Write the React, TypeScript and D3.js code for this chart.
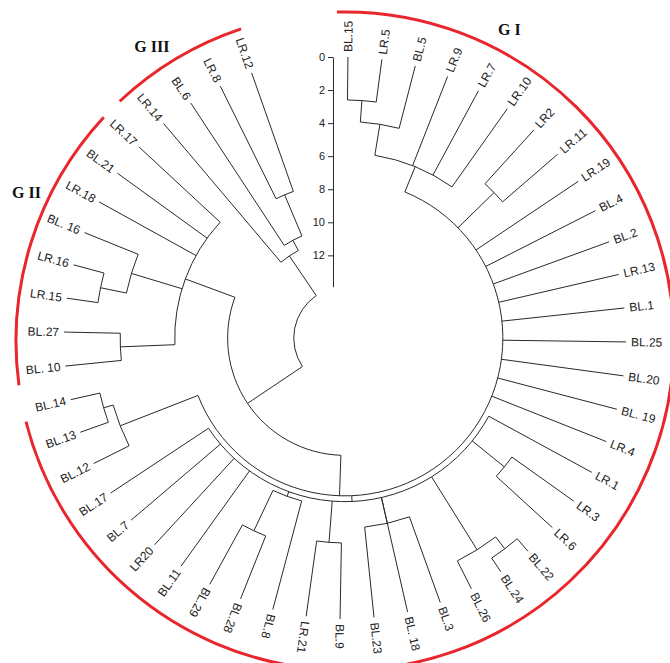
import React, { useEffect, useRef } from 'react';
import * as d3 from 'd3';

// Leaves in clockwise order, starting at the top (BL.15) and ending at LR.12
const LEAVES: string[] = [
  'BL.15', 'LR.5', 'BL.5', 'LR.9', 'LR.7', 'LR.10', 'LR2', 'LR.11', 'LR.19', 'BL.4',
  'BL.2', 'LR.13', 'BL.1', 'BL.25', 'BL.20', 'BL. 19', 'LR.4', 'LR.1', 'LR.3', 'LR.6',
  'BL.22', 'BL.24', 'BL.26', 'BL.3', 'BL. 18', 'BL.23', 'BL.9', 'LR.21', 'BL.8', 'BL.28',
  'BL.29', 'BL.11', 'LR20', 'BL.7', 'BL.17', 'BL.12', 'BL.13', 'BL.14', 'BL. 10', 'BL.27',
  'LR.15', 'LR.16', 'BL. 16', 'LR.18', 'BL.21', 'LR.17', 'LR.14', 'BL.6', 'LR.8', 'LR.12',
];

// Merges: [node id, merge height (distance), children]
const MERGES: [string, number, string[]][] = [
  ['n0', 2.6, ['BL.15', 'LR.5']],
  ['n1', 3.9, ['n0', 'BL.5']],
  ['nA', 5.8, ['n1', 'LR.9', 'LR.7', 'LR.10']],
  ['n2', 4.4, ['LR2', 'LR.11']],
  ['n3', 4.6, ['LR.3', 'LR.6']],
  ['n4', 1.0, ['BL.24', 'BL.22']],
  ['n5', 1.9, ['BL.26', 'n4']],
  ['n6', 5.5, ['BL.3', 'BL.23']],
  ['n7', 4.6, ['BL.9', 'LR.21']],
  ['n8', 4.1, ['BL.28', 'BL.29']],
  ['n9', 6.8, ['BL.8', 'n8']],
  ['nE', 7.1, ['LR.1', 'n3', 'n5', 'n6', 'BL. 18', 'n7', 'n9', 'BL.11', 'LR20', 'BL.7', 'BL.17']],
  ['n10', 1.8, ['BL.13', 'BL.14']],
  ['nG', 2.4, ['BL.12', 'n10']],
  ['nD', 7.45, ['nA', 'n2', 'LR.19', 'BL.4', 'BL.2', 'LR.13', 'BL.1', 'BL.25', 'BL.20', 'BL. 19', 'LR.4', 'nE', 'nG']],
  ['n11', 1.9, ['LR.16', 'LR.15']],
  ['n12', 3.5, ['n11', 'BL. 16']],
  ['n13', 3.4, ['BL. 10', 'BL.27']],
  ['nC', 6.7, ['n13', 'n12', 'LR.18', 'BL.21', 'LR.17']],
  ['n14', 7.6, ['LR.8', 'LR.12']],
  ['n15', 10.3, ['BL.6', 'n14']],
  ['n16', 11.0, ['LR.14', 'n15']],
  ['nB', 9.9, ['nD', 'nC']],
  ['root', 13.9, ['nB', 'n16']],
];

// Nodes whose stem leaves the arc away from its middle (degrees)
const NODE_ANGLES: [string, number][] = [['nD', 92]];

const AXIS_TICKS = [0, 2, 4, 6, 8, 10, 12];
const AXIS_MAX = 13.9;

const GROUP_NAMES = ['G I', 'G II', 'G III'];
// [group, first leaf, last leaf, padding before (deg), padding after (deg)]
const GROUP_SPANS: [string, string, string, number, number][] = [
  ['G I', 'BL.15', 'BL.9', 2, 2],
  ['G II', 'LR.21', 'BL.14', 2, -1.5],
  ['G II', 'BL. 10', 'LR.17', 2, 0],
  ['G III', 'LR.14', 'LR.12', 3, 1],
];
const GROUP_LABEL_ANGLES = [-62, 204.5, 236.5];

export default function App() {
  const ref = useRef<SVGSVGElement>(null);

  useEffect(() => {
    const svg = d3.select(ref.current);
    svg.selectAll('*').remove();

    const cx = 345;
    const cy = 338;
    const rad = (d: number) => (d * Math.PI) / 180;

    const angle = d3.scalePoint<string>().domain(LEAVES).range([-89.4, 250.6]);
    const radius = d3.scaleLinear().domain([0, 17]).range([281, 0]);
    const pt = (a: number, r: number): [number, number] => [
      cx + r * Math.cos(rad(a)),
      cy + r * Math.sin(rad(a)),
    ];

    const height = new Map<string, number>();
    const kids = new Map<string, string[]>();
    LEAVES.forEach((l) => height.set(l, 0));
    MERGES.forEach(([id, h, ch]) => {
      height.set(id, h);
      kids.set(id, ch);
    });
    const override = new Map(NODE_ANGLES);
    const memo = new Map<string, number>();
    const nodeAngle = (id: string): number => {
      if (memo.has(id)) return memo.get(id)!;
      let a: number;
      if (!kids.has(id)) a = angle(id)!;
      else if (override.has(id)) a = override.get(id)!;
      else {
        const as = kids.get(id)!.map(nodeAngle);
        a = (d3.min(as)! + d3.max(as)!) / 2;
      }
      memo.set(id, a);
      return a;
    };

    const g = svg.append('g');
    const stroke = '#2a2a2a';

    MERGES.forEach(([id, h, ch]) => {
      const r = radius(h);
      const as = ch.map(nodeAngle);
      const a0 = d3.min(as)!;
      const a1 = d3.max(as)!;
      const p = d3.path();
      p.arc(cx, cy, r, rad(a0), rad(a1), false);
      g.append('path').attr('d', p.toString()).attr('fill', 'none').attr('stroke', stroke).attr('stroke-width', 1);
      ch.forEach((c) => {
        const a = nodeAngle(c);
        const [x1, y1] = pt(a, radius(height.get(c)!));
        const [x2, y2] = pt(a, r);
        g.append('line')
          .attr('x1', x1).attr('y1', y1).attr('x2', x2).attr('y2', y2)
          .attr('stroke', stroke).attr('stroke-width', 1);
      });
    });

    // leaf labels
    LEAVES.forEach((l) => {
      const a = angle(l)!;
      const outward = a >= -95 && a <= 121;
      const [x, y] = pt(a, radius(0) + 5);
      g.append('text')
        .attr('transform', `translate(${x},${y}) rotate(${outward ? a : a + 180})`)
        .attr('text-anchor', outward ? 'start' : 'end')
        .attr('dy', '0.35em')
        .attr('font-family', '"Liberation Sans", Arial, sans-serif')
        .attr('font-size', 12)
        .attr('fill', '#222')
        .text(l);
    });

    // scale axis
    const ys = d3.scaleLinear().domain([0, AXIS_MAX]).range([cy - radius(0), cy - radius(AXIS_MAX)]);
    const axis = d3.axisLeft(ys).tickValues(AXIS_TICKS).tickSize(5).tickSizeOuter(0).tickPadding(3);
    const ag = svg.append('g').attr('transform', 'translate(333,0)').call(axis as any);
    ag.selectAll('text')
      .attr('font-family', '"Liberation Sans", Arial, sans-serif')
      .attr('font-size', 11)
      .attr('fill', '#222');
    ag.selectAll('path,line').attr('stroke', stroke);

    // group arcs
    const gcx = 345;
    const gcy = 341;
    GROUP_SPANS.forEach(([, from, to, p0, p1]) => {
      const p = d3.path();
      p.arc(gcx, gcy, 329, rad(angle(from)! - p0), rad(angle(to)! + p1), false);
      svg.append('path').attr('d', p.toString()).attr('fill', 'none')
        .attr('stroke', '#e8262c').attr('stroke-width', 3);
    });
    GROUP_NAMES.forEach((name, i) => {
      const [x, y] = pt(GROUP_LABEL_ANGLES[i], 350);
      svg.append('text')
        .attr('x', x).attr('y', y)
        .attr('text-anchor', 'middle')
        .attr('dy', '0.35em')
        .attr('font-family', '"Liberation Serif", "Times New Roman", serif')
        .attr('font-weight', 'bold')
        .attr('font-size', 16)
        .attr('fill', '#111')
        .text(name);
    });
  }, []);

  return (
    <svg
      ref={ref}
      width={670}
      height={663}
      style={{ position: 'absolute', left: 0, top: 0, background: '#fff' }}
    />
  );
}
